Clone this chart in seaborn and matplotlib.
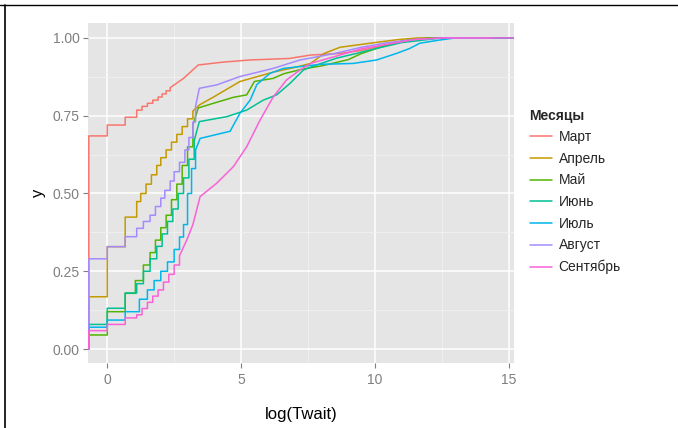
import numpy as np
import pandas as pd
import seaborn as sns
import matplotlib.pyplot as plt
from matplotlib.lines import Line2D

# ECDF curves: first `n` points are stair jumps, the rest is a polyline
months = ["Март", "Апрель", "Май", "Июнь", "Июль", "Август", "Сентябрь"]
colors = ["#F8766D", "#C49A00", "#53B400", "#00C094", "#00B6EB", "#A58AFF", "#FB61D7"]

mart_x = [-0.69, 0, 0.67, 1.1, 1.3, 1.5, 1.7, 1.9, 2.05, 2.2, 2.35,
          2.85, 3.4, 4.3, 5.3, 6.8, 7.6, 8.7, 9.5, 10.3, 11.0, 12.0, 15.2]
mart_y = [0.685, 0.72, 0.745, 0.768, 0.78, 0.79, 0.80, 0.81, 0.82, 0.83, 0.84,
          0.87, 0.913, 0.922, 0.929, 0.934, 0.945, 0.95, 0.96, 0.975, 0.99, 1.0, 1.0]
mart_n = 11

apr_x = [-0.69, 0, 0.67, 1.1, 1.25, 1.45, 1.65, 1.85, 2.0, 2.2, 2.4, 2.6, 2.8, 3.0, 3.2,
         3.45, 3.97, 4.96, 6.2, 7.0, 7.6, 8.1, 8.7, 10.0, 10.9, 11.6, 15.2]
apr_y = [0.168, 0.329, 0.424, 0.474, 0.50, 0.53, 0.56, 0.59, 0.615, 0.64, 0.665, 0.69, 0.715, 0.74, 0.765,
         0.785, 0.81, 0.86, 0.89, 0.905, 0.918, 0.95, 0.97, 0.985, 0.995, 1.0, 1.0]
apr_n = 15

may_x = [-0.69, 0, 0.67, 1.05, 1.35, 1.6, 1.8, 2.0, 2.2, 2.4, 2.6, 2.8, 3.0, 3.2,
         3.4, 3.97, 4.71, 5.21, 5.5, 6.2, 6.6, 7.3, 8.0, 9.0, 9.5, 10.2, 11.0, 12.0, 15.2]
may_y = [0.045, 0.12, 0.179, 0.22, 0.27, 0.31, 0.35, 0.39, 0.43, 0.48, 0.53, 0.59, 0.65, 0.72,
         0.775, 0.79, 0.809, 0.817, 0.86, 0.87, 0.885, 0.90, 0.91, 0.93, 0.95, 0.97, 0.99, 1.0, 1.0]
may_n = 14

jun_x = [-0.69, 0, 0.67, 1.1, 1.35, 1.6, 1.85, 2.05, 2.25, 2.45, 2.65, 2.85, 3.05, 3.25,
         3.44, 4.47, 5.21, 5.83, 6.33, 6.83, 7.33, 7.82, 8.57, 9.3, 10.0, 11.0, 12.5, 15.2]
jun_y = [0.079, 0.131, 0.18, 0.21, 0.25, 0.29, 0.33, 0.37, 0.41, 0.45, 0.50, 0.55, 0.61, 0.67,
         0.731, 0.747, 0.768, 0.80, 0.817, 0.854, 0.897, 0.913, 0.935, 0.95, 0.965, 0.985, 1.0, 1.0]
jun_n = 14

jul_x = [-0.69, 0, 0.67, 1.2, 1.5, 1.75, 2.0, 2.25, 2.5, 2.7, 2.85, 3.0, 3.15, 3.3,
         3.47, 4.59, 4.96, 5.34, 5.59, 6.08, 6.58, 7.95, 9.19, 10.06, 10.8, 11.3, 11.68, 12.4, 13.0, 15.2]
jul_y = [0.07, 0.093, 0.12, 0.16, 0.19, 0.22, 0.25, 0.28, 0.32, 0.36, 0.40, 0.50, 0.58, 0.64,
         0.677, 0.70, 0.758, 0.80, 0.85, 0.886, 0.902, 0.915, 0.918, 0.929, 0.95, 0.966, 0.983, 0.993, 1.0, 1.0]
jul_n = 14

aug_x = [-0.69, 0, 0.67, 1.1, 1.35, 1.6, 1.8, 2.0, 2.15, 2.35, 2.5, 2.7, 2.9, 3.05, 3.2, 3.3,
         3.44, 4.09, 4.96, 6.2, 7.2, 8.5, 9.5, 10.5, 11.5, 12.5, 14.4]
aug_y = [0.29, 0.329, 0.361, 0.388, 0.41, 0.43, 0.458, 0.485, 0.51, 0.54, 0.57, 0.60, 0.64, 0.68, 0.73, 0.78,
         0.838, 0.849, 0.876, 0.902, 0.929, 0.95, 0.97, 0.985, 0.995, 1.0, 1.0]
aug_n = 16

sep_x = [-0.69, 0, 0.67, 1.1, 1.3, 1.5, 1.7, 1.9, 2.1, 2.3, 2.5, 2.7,
         2.97, 3.2, 3.47, 4.09, 4.71, 5.21, 5.71, 6.2, 6.7, 7.2, 7.6, 8.5, 9.5, 10.5, 11.5, 12.5, 15.2]
sep_y = [0.059, 0.079, 0.10, 0.11, 0.13, 0.15, 0.17, 0.19, 0.215, 0.24, 0.27, 0.30,
         0.35, 0.40, 0.49, 0.533, 0.586, 0.65, 0.736, 0.81, 0.865, 0.897, 0.918, 0.94, 0.965, 0.98, 0.995, 1.0, 1.0]
sep_n = 12

curves = [(mart_x, mart_y, mart_n), (apr_x, apr_y, apr_n), (may_x, may_y, may_n),
          (jun_x, jun_y, jun_n), (jul_x, jul_y, jul_n), (aug_x, aug_y, aug_n), (sep_x, sep_y, sep_n)]


def ecdf_path(xs, ys, n):
    px, py = [xs[0]], [0.0]
    prev = 0.0
    for i, (x, y) in enumerate(zip(xs, ys)):
        if i < n:
            px += [x, x]
            py += [prev, y]
        else:
            px.append(x)
            py.append(y)
        prev = y
    return px, py


rows = []
for m, (xs, ys, n) in zip(months, curves):
    px, py = ecdf_path(xs, ys, n)
    for a, b in zip(px, py):
        rows.append({"x": a, "y": b, "Месяцы": m})
df = pd.DataFrame(rows)

sns.set_theme(style="darkgrid", rc={
    "axes.facecolor": "#E5E5E5",
    "grid.color": "white",
    "axes.edgecolor": "#E5E5E5",
})
plt.rcParams["font.family"] = ["Liberation Sans", "DejaVu Sans"]

fig = plt.figure(figsize=(6.78, 4.28), dpi=100)
ax = fig.add_axes([88 / 678, 65 / 428, 426 / 678, 340 / 428])

sns.lineplot(data=df, x="x", y="y", hue="Месяцы", hue_order=months, palette=colors,
             estimator=None, sort=False, lw=1.1, ax=ax, legend=False)

ax.set_xlim(-0.72, 15.2)
ax.set_ylim(-0.045, 1.048)
ax.set_xticks([0, 5, 10, 15])
ax.set_yticks([0, 0.25, 0.5, 0.75, 1.0])
ax.set_yticklabels(["0.00", "0.25", "0.50", "0.75", "1.00"])
ax.set_xticks([2.5, 7.5, 12.5], minor=True)
ax.set_yticks([0.125, 0.375, 0.625, 0.875], minor=True)
ax.grid(which="major", color="white", lw=1.1)
ax.grid(which="minor", color="#F2F2F2", lw=0.6)
ax.tick_params(which="major", length=3.5, width=0.8, color="#7F7F7F", labelcolor="#7F7F7F",
               labelsize=10, pad=2.5, bottom=True, left=True)
ax.tick_params(axis="x", which="major", pad=4)
ax.tick_params(which="minor", length=0)
for s in ax.spines.values():
    s.set_visible(False)

ax.set_xlabel("log(Twait)", fontsize=12, color="black")
ax.set_ylabel("y", fontsize=12, color="black")
ax.yaxis.set_label_coords(-0.098, 0.5)
ax.xaxis.set_label_coords(0.5, -0.13)

handles = [Line2D([], [], color=c, lw=1.1) for c in colors]
leg = fig.legend(handles, months, title="Месяцы", loc="upper left",
                 bbox_to_anchor=(524 / 678, 1 - 103 / 428), frameon=False,
                 fontsize=10, title_fontsize=10, handlelength=1.6, handletextpad=0.5,
                 labelspacing=0.55, borderaxespad=0)
leg.get_title().set_fontweight("bold")
leg._legend_box.align = "left"

# frame lines of the original scan
fig.add_artist(Line2D([5 / 678, 5 / 678], [0, 1 - 5 / 428], color="black", lw=1.2))
fig.add_artist(Line2D([0, 1], [1 - 5 / 428, 1 - 5 / 428], color="black", lw=1.0))

fig.savefig("out.png", dpi=100)
